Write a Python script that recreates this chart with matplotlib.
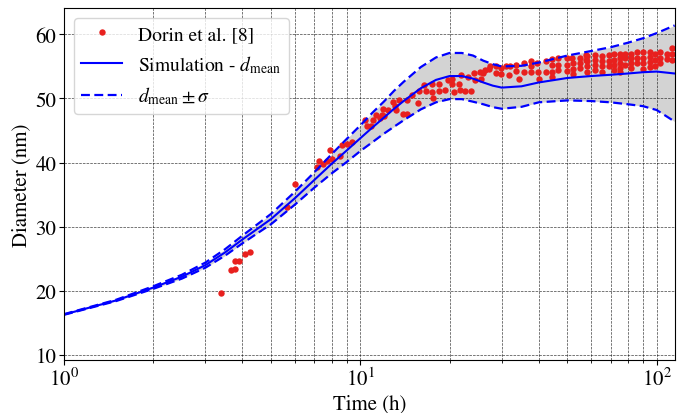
import numpy as np
import matplotlib
matplotlib.use("Agg")
import matplotlib.pyplot as plt

plt.rcParams["font.family"] = "STIXGeneral"
plt.rcParams["mathtext.fontset"] = "stix"

# Simulation
sim_t = [1, 1.5, 2, 2.5, 3, 3.5, 4, 5, 6, 7, 8, 9, 10, 11, 12, 13, 14, 16, 18,
         20, 22, 24, 26, 28, 30, 35, 40, 50, 60, 70, 80, 90, 100, 115]
sim_mean = [16.3, 18.5, 20.5, 22.2, 24.0, 26.0, 28.0, 31.2, 34.4, 37.3, 39.8,
            41.9, 43.8, 45.5, 47.0, 48.4, 49.6, 51.6, 52.9, 53.5, 53.5, 53.1,
            52.5, 52.0, 51.7, 51.9, 52.5, 53.2, 53.5, 53.7, 53.9, 54.1, 54.2,
            53.9]
sim_sigma = [0.05, 0.1, 0.2, 0.3, 0.4, 0.5, 0.6, 0.8, 1.0, 1.2, 1.5, 1.8, 2.0,
             2.3, 2.5, 2.8, 3.0, 3.3, 3.5, 3.6, 3.6, 3.6, 3.4, 3.35, 3.3, 3.2,
             3.1, 3.5, 3.9, 4.3, 4.8, 5.3, 6.0, 7.5]

# Dorin et al. [8]
dorin_t = [3.4, 3.67, 3.78, 3.78, 3.91, 4.09, 4.25, 5.67, 6.0,
           7.14, 7.25, 7.51, 7.70, 7.92, 8.03, 8.53, 8.67, 9.05, 9.37,
           10.4, 10.5, 10.9, 11.0, 11.3, 11.65, 11.8, 11.9, 12.0, 12.4, 12.9,
           13.1, 13.2, 13.5, 13.9, 14.4, 14.4, 14.9, 15.6, 15.8, 16.4, 16.6,
           17.4, 17.5, 17.6, 18.4, 18.4, 19.3, 19.7, 20.4, 20.4, 20.7, 21.5,
           21.7, 21.8, 22.6, 23.1, 23.7, 24.1, 24.4, 25.4, 25.6, 26.0, 26.3,
           27.2, 27.5, 28.7, 28.7, 29.9, 29.9, 30.9, 31.7, 32.1, 33.4, 33.4,
           34.3, 35.7, 35.7, 37.6, 37.6, 37.6, 39.6, 39.9, 40.1, 42.2, 42.2,
           44.2, 44.2, 44.2, 44.2, 46.5, 46.5, 46.5, 49.7, 49.7, 49.7,
           51.8, 52.3, 52.3, 52.3, 55.2, 55.2, 55.2, 57.7, 57.7,
           58.2, 58.2, 58.2, 58.2, 62.1, 62.1, 62.1, 62.1,
           65.4, 65.4, 65.4, 65.4, 68.8, 68.8, 68.8,
           71.6, 71.6, 71.6, 71.6, 75.4, 75.4, 75.4, 75.4, 75.4,
           78.3, 78.3, 78.3, 81.7, 81.7, 81.7, 81.7, 85.6, 85.6, 85.6,
           90.2, 90.2, 90.2, 90.2, 95.2, 95.2, 95.2, 95.2, 99.0, 99.0, 99.0,
           103, 103, 103, 108, 108, 112.6, 112.6, 112.6]
dorin_d = [19.7, 23.2, 23.4, 24.6, 24.7, 25.8, 26.1, 33.1, 36.6,
           39.3, 40.2, 39.8, 40.2, 42.0, 40.6, 41.1, 42.8, 42.9, 43.2,
           46.6, 45.7, 45.7, 46.6, 47.5, 46.9, 47.5, 48.4, 47.2, 48.2, 49.4,
           48.9, 48.2, 49.7, 47.6, 47.6, 49.8, 50.6, 49.3, 51.1, 52.1, 51.1,
           51.0, 52.2, 50.0, 52.2, 51.2, 51.3, 52.9, 53.1, 52.2, 51.0, 52.3,
           51.3, 53.6, 51.2, 53.4, 51.1, 53.9, 52.9, 54.2, 53.1, 53.9, 54.5,
           54.6, 55.0, 55.0, 53.9, 54.8, 53.8, 55.0, 53.6, 55.0, 55.2, 54.3,
           53.1, 55.5, 54.2, 55.8, 55.0, 54.2, 55.5, 54.2, 53.1, 55.8, 54.2,
           56.2, 55.2, 54.2, 53.4, 56.3, 55.2, 54.4, 56.3, 55.2, 54.3,
           56.3, 55.5, 54.6, 53.8, 56.3, 55.5, 54.7, 56.8, 56.0,
           56.6, 55.8, 55.0, 54.2, 56.8, 56.0, 55.2, 54.4,
           56.6, 55.8, 55.0, 54.2, 56.8, 55.8, 55.0,
           57.0, 56.0, 55.2, 54.4, 57.0, 56.3, 55.5, 54.7, 54.2,
           57.0, 56.3, 55.2, 57.0, 56.3, 55.5, 54.7, 57.2, 56.3, 55.5,
           57.2, 56.3, 55.5, 54.6, 57.3, 56.5, 55.7, 54.9, 57.0, 56.0, 55.0,
           57.3, 56.3, 55.5, 57.0, 56.2, 57.9, 57.0, 56.0]

sim_mean = np.array(sim_mean)
sim_sigma = np.array(sim_sigma)
upper = sim_mean + sim_sigma
lower = sim_mean - sim_sigma

fig = plt.figure(figsize=(6.77, 4.14), dpi=100)
ax = fig.add_axes([0.0945, 0.128, 0.902, 0.85])

ax.fill_between(sim_t, lower, upper, color="lightgray", lw=0)
ax.plot(dorin_t, dorin_d, "o", color="#e8201e", ms=4.6, mew=0, label="Dorin et al. [8]")
ax.plot(sim_t, sim_mean, "b-", lw=1.5, label=r"Simulation - $d_{\mathrm{mean}}$")
ax.plot(sim_t, upper, "b--", lw=1.6, dashes=(4, 2), label=r"$d_{\mathrm{mean}} \pm \sigma$")
ax.plot(sim_t, lower, "b--", lw=1.6, dashes=(4, 2))

ax.set_xscale("log")
ax.set_xlim(1, 115)
ax.set_ylim(9.2, 64.1)
ax.set_yticks([10, 20, 30, 40, 50, 60])
ax.grid(which="both", ls="--", color="k", lw=0.5, alpha=0.75)
ax.set_xlabel("Time (h)", fontsize=15, labelpad=2)
ax.set_ylabel("Diameter (nm)", fontsize=15, labelpad=3)
ax.tick_params(labelsize=15, pad=2)
ax.legend(loc="upper left", fontsize=14, handlelength=2.1)

plt.savefig("out.png", dpi=100)
